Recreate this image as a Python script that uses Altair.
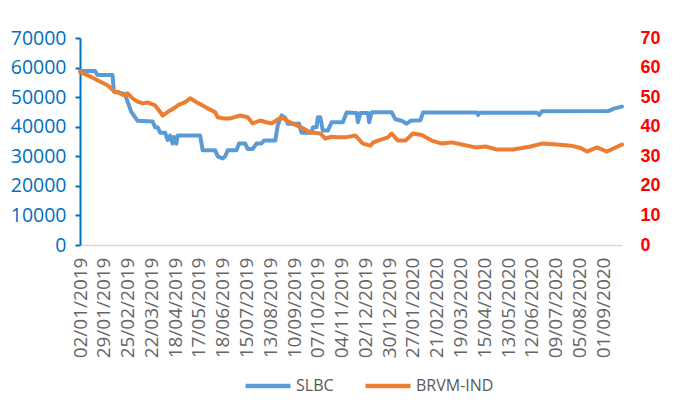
import altair as alt
import pandas as pd

# Trading-day index (0 = 02/01/2019, 19 days between tick labels) and values
slbc_idx = [0, 12, 14, 26, 27, 36, 38, 41, 46, 58, 60, 62, 64, 68, 70, 72, 74, 75, 77, 78,
            96, 98, 108, 110, 114, 116, 118, 125, 127, 132, 134, 138, 141, 145, 147, 156,
            158, 161, 164, 166, 175, 177, 185, 186, 189, 190, 192, 194, 198, 201, 210, 213,
            221, 222, 224, 230, 231, 233, 249, 252, 257, 261, 264, 272, 274, 317, 318, 319,
            365, 367, 369, 422, 427, 433]
slbc_val = [58800, 58800, 57500, 57500, 52000, 51000, 48500, 45000, 42000, 41800, 39800, 39800,
            38000, 38000, 35500, 37000, 34300, 36500, 34300, 37000,
            37000, 32000, 32000, 30000, 29300, 30000, 32000, 32000, 34300, 34300, 32500, 32500,
            34300, 34300, 35300, 35300,
            40500, 43800, 43000, 41000, 41000, 38000, 38000, 39800, 39800, 43200, 43200, 38700,
            38700, 41500, 41500, 44800,
            44600, 41500, 44600, 44600, 41500, 44900, 44900, 42500, 42000, 41000, 42000, 42200,
            44800, 44800, 44000, 44700,
            44700, 44000, 45200, 45300, 46200, 46800]

brvm_idx = [0, 8, 16, 22, 26, 28, 30, 34, 36, 38, 42, 46, 50, 54, 60, 64, 66, 72, 76, 78, 84,
            88, 93, 98, 102, 108, 110, 115, 120, 128, 134, 138, 144, 148, 153, 161, 165, 173,
            178, 184, 192, 196, 201, 206, 212, 220, 226, 232, 234, 238, 246, 249, 254, 260, 266,
            273, 281, 289, 297, 305, 316, 324, 333, 346, 360, 369, 381, 392, 400, 405, 413, 421,
            427, 433]
brvm_val = [58.5, 57.0, 55.3, 54.0, 52.5, 51.6, 51.8, 50.8, 50.6, 51.3, 49.6, 48.5, 47.9, 48.2,
            47.2, 45.0, 43.8, 45.5, 46.5, 47.2, 48.3, 49.6, 48.3, 47.2, 46.2, 44.9, 43.2, 42.8,
            42.8, 43.8, 43.2, 41.1, 42.1, 41.6, 41.1, 43.2, 42.1, 40.4, 39.5, 38.1, 37.7, 36.0,
            36.6, 36.4, 36.4, 37.0, 34.3, 33.6, 34.6, 35.3, 36.4, 37.7, 35.3, 35.3, 37.7, 37.2,
            35.3, 34.3, 34.7, 34.0, 33.0, 33.3, 32.3, 32.3, 33.3, 34.3, 34.0, 33.6, 32.8, 31.6,
            33.0, 31.6, 32.8, 34.0]

tick_labels = ["02/01/2019", "29/01/2019", "25/02/2019", "22/03/2019", "18/04/2019",
               "17/05/2019", "18/06/2019", "15/07/2019", "13/08/2019", "10/09/2019",
               "07/10/2019", "04/11/2019", "02/12/2019", "30/12/2019", "27/01/2020",
               "21/02/2020", "19/03/2020", "15/04/2020", "13/05/2020", "12/06/2020",
               "09/07/2020", "05/08/2020", "01/09/2020"]
tick_step = 19
series_names = ["SLBC", "BRVM-IND"]
series_colors = ["#5B9BD5", "#ED7D31"]

df_s = pd.DataFrame({"idx": slbc_idx, "value": slbc_val, "series": series_names[0]})
df_b = pd.DataFrame({"idx": brvm_idx, "value": brvm_val, "series": series_names[1]})

label_expr = "[" + ",".join(f"'{l}'" for l in tick_labels) + f"][round(datum.value/{tick_step})]"
tick_vals = [i * tick_step for i in range(len(tick_labels))]

x_enc = alt.X(
    "idx:Q",
    scale=alt.Scale(domain=[0, 433], nice=False, zero=False),
    axis=alt.Axis(values=tick_vals, labelExpr=label_expr, labelAngle=270,
                  labelAlign="right", labelBaseline="middle", labelFontSize=19,
                  labelFont="Open Sans", labelColor="#666666", labelPadding=12,
                  ticks=False, domainColor="#D9D9D9", domainWidth=1.5, grid=False,
                  title=None, labelOverlap=False, labelFlush=False),
)

color_enc = alt.Color(
    "series:N",
    scale=alt.Scale(domain=series_names, range=series_colors),
    legend=alt.Legend(orient="none", legendX=163, legendY=323, direction="horizontal",
                      title=None, symbolType="stroke", symbolStrokeWidth=4.5,
                      symbolSize=2025, labelFontSize=16, labelFont="Open Sans",
                      labelColor="#595959", columnPadding=22, labelOffset=3),
)

blue = alt.Chart(df_s).mark_line(strokeWidth=4, strokeJoin="round", strokeCap="round").encode(
    x=x_enc,
    y=alt.Y("value:Q", scale=alt.Scale(domain=[0, 70000], nice=False),
            axis=alt.Axis(values=list(range(0, 70001, 10000)), format="d",
                          labelColor="#0070C0", labelFontSize=19.5, labelFont="Open Sans",
                          domainColor="#0070C0", domainWidth=2, tickColor="#0070C0",
                          tickWidth=2, tickSize=5, labelPadding=9, grid=False, title=None)),
    color=color_enc,
)

orange = alt.Chart(df_b).mark_line(strokeWidth=4, strokeJoin="round", strokeCap="round").encode(
    x=x_enc,
    y=alt.Y("value:Q", scale=alt.Scale(domain=[0, 70], nice=False),
            axis=alt.Axis(orient="right", values=list(range(0, 71, 10)),
                          labelColor="#FF0000", labelFontWeight="bold",
                          labelFont="Liberation Sans", labelFontSize=18, domain=False,
                          ticks=False, labelPadding=18, grid=False, title=None)),
    color=color_enc,
)

chart = alt.layer(blue, orange).resolve_scale(y="independent").properties(
    width=542, height=207,
    autosize=alt.AutoSizeParams(type="none"),
    padding={"left": 72, "top": 30, "right": 59, "bottom": 152},
).configure_view(stroke=None)

chart.save("out.html", embed_options={"renderer": "svg", "actions": False})
